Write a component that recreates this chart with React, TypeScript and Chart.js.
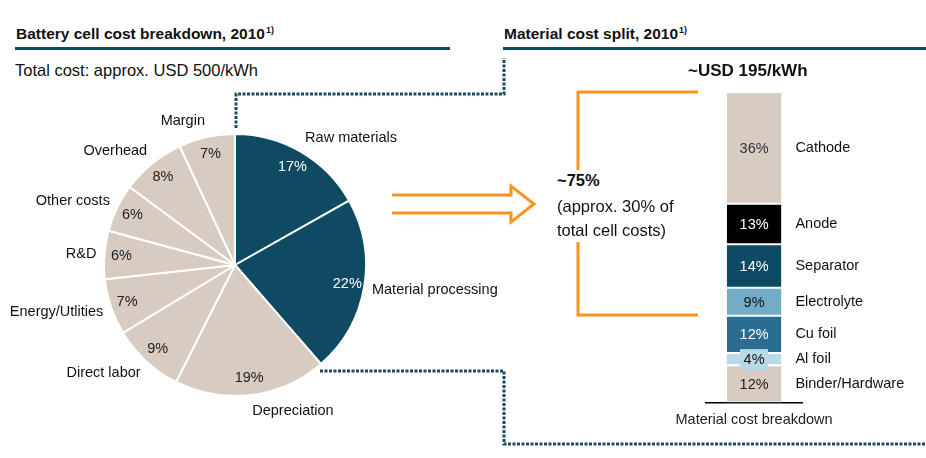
import React, { useEffect, useRef } from "react";
import { Chart, registerables } from "chart.js";

Chart.register(...registerables);

const FONT = "'Liberation Sans', Arial, sans-serif";
const DARK = "#0e4a62";
const BEIGE = "#d8cbc2";
const ORANGE = "#f7941d";
const DOT = "#1b4a5e";

// Pie: battery cell cost breakdown (clockwise from 12 o'clock)
const pieLabels = [
  "Raw materials",
  "Material processing",
  "Depreciation",
  "Direct labor",
  "Energy/Utlities",
  "R&D",
  "Other costs",
  "Overhead",
  "Margin",
];
const pieValues = [17, 22, 19, 9, 7, 6, 6, 8, 7];
const pieColors = [DARK, DARK, BEIGE, BEIGE, BEIGE, BEIGE, BEIGE, BEIGE, BEIGE];
const pieTextColors = ["#ffffff", "#ffffff", "#222", "#222", "#222", "#222", "#222", "#222", "#222"];

// Stacked bar: material cost split (top to bottom)
const matCategory = ["Material cost breakdown"];
const matLabels = ["Cathode", "Anode", "Separator", "Electrolyte", "Cu foil", "Al foil", "Binder/Hardware"];
const matValues = [36, 13, 14, 9, 12, 4, 12];
const matColors = ["#d8cbc2", "#000000", "#0d4a63", "#72adc8", "#2b6c91", "#b9d8e8", "#d8cbc2"];
const matTextColors = ["#333", "#ffffff", "#ffffff", "#111", "#ffffff", "#111", "#222"];

const pieLabelPlugin = {
  id: "pieLabels",
  afterDatasetsDraw(chart: any) {
    const ctx = chart.ctx;
    const meta = chart.getDatasetMeta(0);
    meta.data.forEach((arc: any, i: number) => {
      const p = arc.getProps(["x", "y", "startAngle", "endAngle", "outerRadius"], true);
      const a = (p.startAngle + p.endAngle) / 2;
      const c = Math.cos(a);
      const s = Math.sin(a);
      ctx.save();
      ctx.font = `14.5px ${FONT}`;
      ctx.textBaseline = "middle";
      ctx.textAlign = "center";
      ctx.fillStyle = pieTextColors[i];
      const rp = p.outerRadius * 0.87;
      ctx.fillText(pieValues[i] + "%", p.x + c * rp, p.y + s * rp);
      const rn = p.outerRadius + 8;
      ctx.textAlign = c >= -0.2 ? "left" : "right";
      ctx.fillStyle = "#111";
      ctx.fillText(pieLabels[i], p.x + c * rn, p.y + s * rn + 8 * s);
      ctx.restore();
    });
  },
};

const barLabelPlugin = {
  id: "barLabels",
  afterDatasetsDraw(chart: any) {
    const ctx = chart.ctx;
    chart.data.datasets.forEach((ds: any, di: number) => {
      const el: any = chart.getDatasetMeta(di).data[0];
      if (!el) return;
      const p = el.getProps(["x", "y", "base", "width"], true);
      const cy = (p.y + p.base) / 2;
      const idx = ds.srcIndex;
      ctx.save();
      ctx.font = `14.5px ${FONT}`;
      ctx.textBaseline = "middle";
      ctx.textAlign = "center";
      if (Math.abs(p.base - p.y) < 18) {
        ctx.fillStyle = matColors[idx];
        ctx.fillRect(p.x - 14, cy - 10, 28, 21);
      }
      ctx.fillStyle = matTextColors[idx];
      ctx.fillText(matValues[idx] + "%", p.x, cy + 1);
      ctx.textAlign = "left";
      ctx.fillStyle = "#111";
      ctx.fillText(matLabels[idx], p.x + p.width / 2 + 14, cy);
      ctx.restore();
    });
  },
};

const abs = (l: number, t: number, extra: React.CSSProperties = {}): React.CSSProperties => ({
  position: "absolute",
  left: l,
  top: t,
  whiteSpace: "nowrap",
  fontFamily: FONT,
  color: "#111",
  ...extra,
});

export default function App() {
  const pieRef = useRef<HTMLCanvasElement>(null);
  const barRef = useRef<HTMLCanvasElement>(null);

  useEffect(() => {
    document.body.style.margin = "0";
    Chart.defaults.font.family = FONT;
    const pie = new Chart(pieRef.current!, {
      type: "pie",
      data: {
        labels: pieLabels,
        datasets: [
          {
            data: pieValues,
            backgroundColor: pieColors,
            borderColor: "#ffffff",
            borderWidth: 2,
          },
        ],
      },
      options: {
        responsive: false,
        animation: false,
        layout: { padding: { left: 103, right: 143, top: 33, bottom: 43 } },
        plugins: { legend: { display: false }, tooltip: { enabled: false } },
      },
      plugins: [pieLabelPlugin],
    });

    const order = matValues.map((_, i) => i).reverse();
    const bar = new Chart(barRef.current!, {
      type: "bar",
      data: {
        labels: matCategory,
        datasets: order.map((i) => ({
          label: matLabels[i],
          data: [matValues[i]],
          backgroundColor: matColors[i],
          borderColor: "#ffffff",
          borderWidth: { top: 1, bottom: 1, left: 0, right: 0 },
          borderSkipped: false,
          categoryPercentage: 0.57,
          barPercentage: 1,
          srcIndex: i,
        })) as any,
      },
      options: {
        responsive: false,
        animation: false,
        layout: { padding: { left: 53, right: 124, top: 12, bottom: 2 } },
        plugins: { legend: { display: false }, tooltip: { enabled: false } },
        scales: {
          x: {
            stacked: true,
            grid: { display: false, drawTicks: false },
            border: { display: true, color: "#000", width: 1.5 },
            ticks: { color: "#222", font: { size: 14.5 }, padding: 9 },
          },
          y: { stacked: true, display: false, min: 0, max: 100 },
        },
      },
      plugins: [barLabelPlugin],
    });
    return () => {
      pie.destroy();
      bar.destroy();
    };
  }, []);

  return (
    <div style={{ position: "absolute", left: 0, top: 0, width: 926, height: 458, background: "#fff", overflow: "hidden" }}>
      <svg width={926} height={458} style={{ position: "absolute", left: 0, top: 0 }}>
        <g fill="none" stroke={DOT} strokeWidth={3} strokeDasharray="3 1.5">
          <path d="M236 128 V94 H504 V58" />
          <path d="M320 371 H504 V444 H926" />
        </g>
        <g fill="none" stroke={ORANGE} strokeWidth={3} strokeLinejoin="miter">
          <path d="M392 195 H511 V186 L534 204 L511 222 V213 H392" />
          <path d="M698 92 H578 V170" />
          <path d="M578 242 V315 H698" />
        </g>
      </svg>
      <canvas ref={pieRef} width={510} height={340} style={{ position: "absolute", left: 0, top: 100 }} />
      <canvas ref={barRef} width={286} height={360} style={{ position: "absolute", left: 640, top: 80 }} />

      <div style={abs(16, 20, { fontSize: 15.5, fontWeight: 700, lineHeight: "20px" })}>
        Battery cell cost breakdown, 2010<sup style={{ fontSize: 9, verticalAlign: "6px", marginLeft: 1 }}>1)</sup>
      </div>
      <div style={{ position: "absolute", left: 15, top: 47, width: 435, height: 3, background: "#0f4a5f" }} />
      <div style={abs(15, 60, { fontSize: 16.5, lineHeight: "20px" })}>Total cost: approx. USD 500/kWh</div>

      <div style={abs(504, 20, { fontSize: 15.5, fontWeight: 700, lineHeight: "20px" })}>
        Material cost split, 2010<sup style={{ fontSize: 9, verticalAlign: "6px", marginLeft: 1 }}>1)</sup>
      </div>
      <div style={{ position: "absolute", left: 503, top: 47, width: 423, height: 3, background: "#0f4a5f" }} />
      <div style={abs(688, 61, { fontSize: 17, fontWeight: 700, lineHeight: "20px" })}>~USD 195/kWh</div>

      <div style={abs(557, 170, { fontSize: 16.5, fontWeight: 700, lineHeight: "20px" })}>~75%</div>
      <div style={abs(557, 194, { fontSize: 16.5, lineHeight: "24px" })}>
        (approx. 30% of
        <br />
        total cell costs)
      </div>
    </div>
  );
}
